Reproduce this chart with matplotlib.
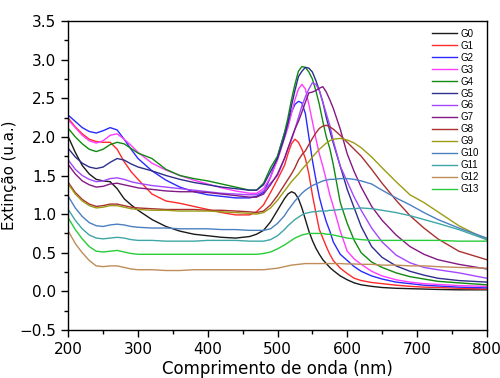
import matplotlib
matplotlib.use("Agg")
import matplotlib.pyplot as plt
from matplotlib.ticker import MultipleLocator

# wavelength grid (nm)
wl = [200, 210, 220, 230, 240, 250, 260, 270, 280, 290, 300, 320, 340, 360, 380, 400, 420, 440, 460, 470,
      480, 490, 500, 510, 515, 520, 525, 530, 535, 540, 545, 550, 555, 560, 565, 570, 575, 580, 590, 600,
      610, 620, 635, 650, 670, 690, 710, 730, 760, 800]

g0 = [2.00, 1.80, 1.63, 1.52, 1.45, 1.43, 1.42, 1.33, 1.20, 1.12, 1.05, 0.93, 0.84, 0.78, 0.74, 0.72, 0.70, 0.69, 0.71, 0.74,
      0.79, 0.90, 1.05, 1.20, 1.26, 1.29, 1.27, 1.20, 1.08, 0.93, 0.78, 0.66, 0.56, 0.48, 0.41, 0.36, 0.31, 0.27, 0.20, 0.15,
      0.11, 0.085, 0.065, 0.05, 0.04, 0.035, 0.03, 0.025, 0.02, 0.02]
g1 = [2.24, 2.13, 2.04, 1.97, 1.94, 1.93, 1.93, 1.84, 1.68, 1.55, 1.45, 1.26, 1.17, 1.14, 1.10, 1.06, 1.02, 0.99, 0.99, 1.03,
      1.12, 1.28, 1.45, 1.63, 1.78, 1.91, 1.97, 1.93, 1.84, 1.72, 1.52, 1.25, 1.02, 0.80, 0.69, 0.58, 0.48, 0.40, 0.30, 0.23,
      0.17, 0.14, 0.115, 0.10, 0.08, 0.065, 0.055, 0.05, 0.04, 0.03]
g2 = [2.28, 2.20, 2.12, 2.07, 2.05, 2.08, 2.12, 2.09, 1.97, 1.84, 1.72, 1.56, 1.44, 1.35, 1.29, 1.25, 1.23, 1.21, 1.21, 1.23,
      1.28, 1.48, 1.74, 2.05, 2.18, 2.32, 2.42, 2.46, 2.44, 2.30, 2.00, 1.70, 1.45, 1.22, 1.05, 0.90, 0.78, 0.64, 0.48, 0.40,
      0.32, 0.26, 0.20, 0.16, 0.12, 0.10, 0.08, 0.07, 0.055, 0.045]
g3 = [2.22, 2.12, 2.02, 1.95, 1.92, 1.95, 2.02, 2.04, 1.97, 1.89, 1.80, 1.66, 1.57, 1.50, 1.44, 1.39, 1.34, 1.30, 1.27, 1.27,
      1.33, 1.48, 1.70, 1.98, 2.12, 2.30, 2.48, 2.62, 2.68, 2.62, 2.42, 2.20, 1.98, 1.78, 1.62, 1.44, 1.25, 1.10, 0.78, 0.52,
      0.42, 0.35, 0.26, 0.20, 0.15, 0.12, 0.10, 0.09, 0.075, 0.065]
g4 = [2.11, 2.00, 1.91, 1.84, 1.81, 1.84, 1.90, 1.93, 1.91, 1.85, 1.79, 1.72, 1.58, 1.50, 1.46, 1.43, 1.39, 1.35, 1.31, 1.31,
      1.40, 1.60, 1.75, 2.05, 2.25, 2.48, 2.68, 2.85, 2.91, 2.90, 2.84, 2.75, 2.60, 2.42, 2.20, 2.00, 1.85, 1.64, 1.15, 0.88,
      0.66, 0.50, 0.38, 0.31, 0.24, 0.19, 0.16, 0.13, 0.11, 0.085]
g5 = [1.85, 1.74, 1.66, 1.61, 1.59, 1.61, 1.67, 1.72, 1.70, 1.65, 1.61, 1.56, 1.50, 1.45, 1.41, 1.38, 1.35, 1.33, 1.31, 1.31,
      1.38, 1.55, 1.72, 2.00, 2.18, 2.40, 2.60, 2.78, 2.85, 2.90, 2.89, 2.84, 2.73, 2.60, 2.45, 2.25, 2.08, 1.92, 1.62, 1.32,
      1.08, 0.84, 0.58, 0.44, 0.33, 0.26, 0.21, 0.17, 0.14, 0.12]
g6 = [1.70, 1.58, 1.50, 1.45, 1.42, 1.43, 1.46, 1.47, 1.45, 1.42, 1.40, 1.37, 1.35, 1.33, 1.31, 1.29, 1.27, 1.26, 1.25, 1.25,
      1.30, 1.40, 1.50, 1.72, 1.85, 1.96, 2.10, 2.25, 2.40, 2.52, 2.62, 2.70, 2.68, 2.60, 2.45, 2.30, 2.15, 1.95, 1.62, 1.42,
      1.22, 1.05, 0.82, 0.64, 0.47, 0.37, 0.31, 0.28, 0.24, 0.17]
g7 = [1.64, 1.52, 1.43, 1.38, 1.35, 1.36, 1.39, 1.40, 1.38, 1.36, 1.34, 1.32, 1.30, 1.29, 1.29, 1.28, 1.26, 1.24, 1.22, 1.22,
      1.26, 1.38, 1.52, 1.72, 1.85, 1.98, 2.10, 2.20, 2.32, 2.45, 2.57, 2.58, 2.60, 2.63, 2.65, 2.58, 2.48, 2.37, 2.10, 1.78,
      1.55, 1.35, 1.10, 0.92, 0.73, 0.58, 0.48, 0.41, 0.35, 0.29]
g8 = [1.41, 1.28, 1.19, 1.13, 1.10, 1.11, 1.13, 1.13, 1.11, 1.09, 1.08, 1.07, 1.06, 1.06, 1.06, 1.05, 1.05, 1.04, 1.03, 1.02,
      1.04, 1.12, 1.24, 1.38, 1.45, 1.52, 1.60, 1.70, 1.77, 1.82, 1.90, 1.98, 2.05, 2.11, 2.14, 2.15, 2.13, 2.10, 2.02, 1.93,
      1.84, 1.75, 1.58, 1.40, 1.18, 0.98, 0.82, 0.68, 0.52, 0.41]
g9 = [1.39, 1.26, 1.17, 1.11, 1.08, 1.09, 1.11, 1.11, 1.09, 1.07, 1.06, 1.05, 1.05, 1.04, 1.04, 1.04, 1.03, 1.02, 1.01, 1.00,
      1.02, 1.08, 1.18, 1.30, 1.36, 1.42, 1.47, 1.52, 1.58, 1.63, 1.68, 1.74, 1.79, 1.84, 1.88, 1.92, 1.95, 1.97, 1.98, 1.96,
      1.92, 1.86, 1.74, 1.60, 1.42, 1.25, 1.15, 1.03, 0.85, 0.67]
g10 = [1.23, 1.08, 0.97, 0.89, 0.85, 0.84, 0.86, 0.87, 0.86, 0.84, 0.83, 0.82, 0.82, 0.81, 0.81, 0.81, 0.80, 0.80, 0.79, 0.79,
       0.79, 0.81, 0.88, 0.98, 1.05, 1.11, 1.17, 1.22, 1.27, 1.31, 1.34, 1.37, 1.39, 1.41, 1.43, 1.44, 1.45, 1.45, 1.46, 1.46,
       1.45, 1.43, 1.39, 1.31, 1.21, 1.12, 1.02, 0.93, 0.82, 0.69]
g11 = [1.06, 0.92, 0.81, 0.73, 0.69, 0.68, 0.69, 0.70, 0.69, 0.67, 0.66, 0.66, 0.65, 0.65, 0.65, 0.66, 0.66, 0.66, 0.65, 0.65,
       0.65, 0.67, 0.72, 0.80, 0.85, 0.89, 0.93, 0.96, 0.99, 1.01, 1.02, 1.03, 1.03, 1.04, 1.04, 1.04, 1.05, 1.05, 1.06, 1.07,
       1.07, 1.08, 1.07, 1.05, 1.02, 0.98, 0.93, 0.88, 0.80, 0.67]
g12 = [0.78, 0.62, 0.50, 0.40, 0.33, 0.32, 0.33, 0.33, 0.31, 0.29, 0.28, 0.28, 0.27, 0.27, 0.28, 0.28, 0.28, 0.28, 0.28, 0.28,
       0.28, 0.29, 0.30, 0.32, 0.33, 0.34, 0.345, 0.35, 0.355, 0.36, 0.36, 0.36, 0.36, 0.36, 0.36, 0.36, 0.36, 0.36, 0.36, 0.355,
       0.355, 0.35, 0.35, 0.34, 0.34, 0.33, 0.33, 0.32, 0.31, 0.30]
g13 = [0.95, 0.80, 0.68, 0.58, 0.52, 0.51, 0.52, 0.53, 0.51, 0.49, 0.48, 0.48, 0.48, 0.48, 0.48, 0.48, 0.48, 0.48, 0.48, 0.48,
       0.49, 0.51, 0.55, 0.60, 0.63, 0.66, 0.69, 0.71, 0.73, 0.74, 0.75, 0.75, 0.75, 0.75, 0.75, 0.74, 0.74, 0.73, 0.71, 0.69,
       0.68, 0.67, 0.66, 0.66, 0.66, 0.66, 0.66, 0.66, 0.65, 0.65]

series = [g0, g1, g2, g3, g4, g5, g6, g7, g8, g9, g10, g11, g12, g13]
labels = ["G%d" % i for i in range(14)]
colors = ["#1a1a1a", "#ff2a2a", "#2a2aff", "#ff3cff", "#108a10", "#2e2e8c", "#a546ff",
          "#841884", "#a83030", "#9c9c14", "#4a80c0", "#3ea6a6", "#c08c58", "#28cc3a"]

fig = plt.figure(figsize=(5.0, 3.78), dpi=100)
ax = fig.add_axes([0.1366, 0.127, 0.8368, 0.8174])

for y, lab, c in zip(series, labels, colors):
    ax.plot(wl, y, color=c, lw=1.0, label=lab)

ax.set_xlim(200, 800)
ax.set_ylim(-0.5, 3.5)
ax.xaxis.set_major_locator(MultipleLocator(100))
ax.xaxis.set_minor_locator(MultipleLocator(50))
ax.yaxis.set_major_locator(MultipleLocator(0.5))
ax.yaxis.set_minor_locator(MultipleLocator(0.25))
ax.tick_params(which="major", direction="out", length=5, width=1, labelsize=11)
ax.tick_params(which="minor", direction="out", length=3, width=1)
for s in ax.spines.values():
    s.set_linewidth(1)

ax.set_xlabel("Comprimento de onda (nm)", fontsize=12, labelpad=2)
ax.set_ylabel("Extinção (u.a.)", fontsize=10.8, labelpad=2)

leg = ax.legend(loc="upper right", frameon=False, labelspacing=0.2,
                handlelength=2.5, handletextpad=0.4, borderaxespad=0.4,
                prop={"family": "Liberation Sans", "size": 7})

plt.savefig("out.png", dpi=100)
plt.close()
